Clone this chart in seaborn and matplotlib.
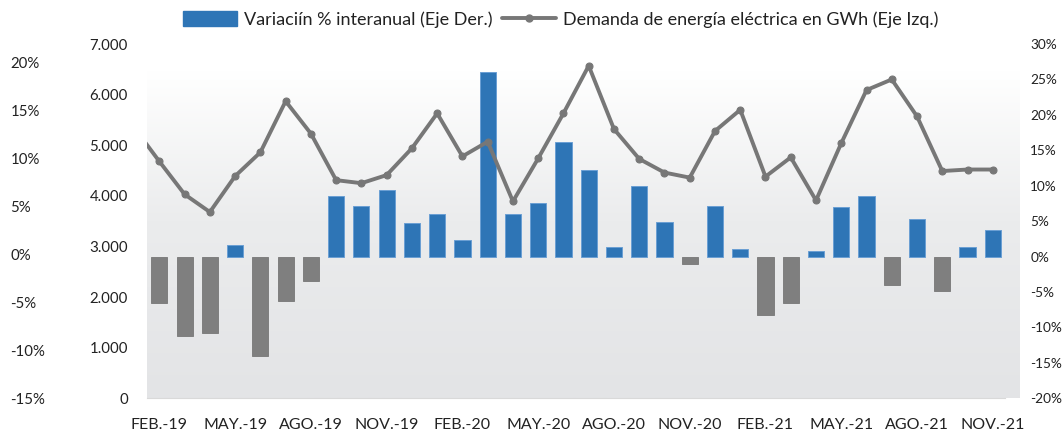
import matplotlib
matplotlib.use("Agg")
import matplotlib.pyplot as plt
import numpy as np
import pandas as pd
import seaborn as sns
from matplotlib.colors import LinearSegmentedColormap
from matplotlib.lines import Line2D
from matplotlib.patches import Patch

# Data
months = ['FEB.-19', 'MAR.-19', 'ABR.-19', 'MAY.-19', 'JUN.-19', 'JUL.-19', 'AGO.-19',
          'SEP.-19', 'OCT.-19', 'NOV.-19', 'DIC.-19',
          'ENE.-20', 'FEB.-20', 'MAR.-20', 'ABR.-20', 'MAY.-20', 'JUN.-20', 'JUL.-20',
          'AGO.-20', 'SEP.-20', 'OCT.-20', 'NOV.-20', 'DIC.-20',
          'ENE.-21', 'FEB.-21', 'MAR.-21', 'ABR.-21', 'MAY.-21', 'JUN.-21', 'JUL.-21',
          'AGO.-21', 'SEP.-21', 'OCT.-21', 'NOV.-21']

# year-on-year variation (%), right axis
var_pct = [-6.6, -11.2, -10.8, 1.6, -14.0, -6.2, -3.4, 8.6, 7.2, 9.4, 4.8,
           6.0, 2.4, 26.1, 6.0, 7.5, 16.1, 12.2, 1.3, 10.0, 4.9, -1.1, 7.2,
           1.1, -8.3, -6.5, 0.8, 7.0, 8.6, -4.0, 5.3, -4.9, 1.3, 3.8]

# electricity demand (GWh), left axis -- starts one month earlier (ENE.-19),
# the chart only shows the segment coming in from the left edge
demand_gwh = [5350, 4680, 4030, 3680, 4390, 4860, 5870, 5230, 4310, 4250, 4410, 4940,
              5630, 4780, 5070, 3890, 4740, 5630, 6570, 5320, 4730, 4460, 4360, 5280,
              5700, 4380, 4760, 3910, 5040, 6090, 6300, 5570, 4490, 4520, 4520]

tick_months = months[::3]
right_ticks = [30, 25, 20, 15, 10, 5, 0, -5, -10, -15, -20]
left_ticks = [0, 1000, 2000, 3000, 4000, 5000, 6000, 7000]
outer_ticks = [20, 15, 10, 5, 0, -5, -10, -15]

BLUE = '#2E75B6'
GRAY_BAR = '#7F7F7F'
GRAY_LINE = '#777777'
TXT = '#222222'
FONT = ['Lato', 'DejaVu Sans']

sns.set_style('white')
plt.rcParams['font.family'] = FONT

fig = plt.figure(figsize=(10.64, 4.34), dpi=100)
rect = [0.1379, 0.0823, 0.8201, 0.8163]

# background gradient
bg = fig.add_axes(rect, zorder=0)
grad = np.linspace(0, 1, 256).reshape(-1, 1)
cmap = LinearSegmentedColormap.from_list('bg', [(0, '#E3E4E6'), (0.5, '#EBECED'), (0.92, '#FFFFFF'), (1, '#FFFFFF')])
bg.imshow(grad, origin='lower', aspect='auto', cmap=cmap, extent=[0, 1, 0, 1])
bg.axis('off')

# bars (right axis)
ax = fig.add_axes(rect, zorder=1)
ax.patch.set_alpha(0)
df = pd.DataFrame({'mes': months, 'var': var_pct})
df['signo'] = np.where(df['var'] >= 0, 'pos', 'neg')
sns.barplot(data=df, x='mes', y='var', hue='signo', palette={'pos': BLUE, 'neg': GRAY_BAR},
            dodge=False, width=0.64, saturation=1, legend=False, ax=ax)
for p in ax.patches:
    if p.get_height() >= 0:
        p.set_edgecolor('#6A9FD4')
    else:
        p.set_edgecolor(GRAY_BAR)
    p.set_linewidth(0.7)

# line axis (twin) -- created first so the tick sides can be set afterwards
ax2 = ax.twinx()
line_x = list(range(-1, len(months)))
sns.lineplot(x=line_x, y=demand_gwh, ax=ax2, color=GRAY_LINE, lw=2.8, marker='o',
             markersize=5, markeredgecolor=GRAY_LINE, markeredgewidth=0.8)

ax.set_ylim(-20, 30)
ax.set_xlim(-0.5, 34.05)
ax.yaxis.tick_right()
ax.yaxis.set_label_position('right')
ax.set_yticks(right_ticks)
ax.set_yticklabels([f'{v}%' for v in right_ticks])
ax.tick_params(axis='y', length=0, pad=8, labelsize=9.8, labelcolor=TXT)
ax.set_xticks(range(0, 34, 3))
ax.set_xticklabels(tick_months)
ax.set_xticks(np.arange(-0.5, 34, 1), minor=True)
ax.tick_params(axis='x', which='major', length=0, pad=14, labelsize=11.5, labelcolor=TXT)
ax.tick_params(axis='x', which='minor', length=5, color='#D9D9D9', width=1, direction='out')
ax.set_xlabel('')
ax.set_ylabel('')
for s in ['top', 'left', 'right']:
    ax.spines[s].set_visible(False)
ax.spines['bottom'].set_color('#D9D9D9')
ax.spines['bottom'].set_bounds(-0.5, 33.5)

ax2.set_xlim(-0.5, 34.05)
ax2.set_ylim(0, 7000)
ax2.yaxis.tick_left()
ax2.yaxis.set_label_position('left')
ax2.set_yticks(left_ticks)
ax2.set_yticklabels([f'{v:,}'.replace(',', '.') for v in left_ticks])
ax2.tick_params(axis='y', length=0, pad=13.5, labelsize=10.8, labelcolor=TXT)
ax2.set_ylabel('')
for s in ax2.spines.values():
    s.set_visible(False)

# outer left % scale
ax3 = fig.add_axes([10 / 1064, 0.0823, 0.0005, 0.7733])
ax3.set_ylim(-15, 20)
ax3.set_yticks(outer_ticks)
ax3.set_yticklabels([f'{v}%' for v in outer_ticks])
ax3.yaxis.tick_right()
ax3.tick_params(axis='y', length=0, pad=0, labelsize=10.8, labelcolor=TXT)
ax3.set_xticks([])
ax3.patch.set_alpha(0)
for s in ax3.spines.values():
    s.set_visible(False)

handles = [Patch(facecolor=BLUE, edgecolor=BLUE),
           Line2D([0], [0], color=GRAY_LINE, lw=2.8, marker='o', markersize=5)]
labels = ['Variaciín % interanual (Eje Der.)', 'Demanda de energía eléctrica en GWh (Eje Izq.)']
fig.legend(handles, labels, loc='center', bbox_to_anchor=(0.527, 0.955), ncol=2, frameon=False,
           fontsize=13, handlelength=3.0, handleheight=0.9, handletextpad=0.4, columnspacing=0.5,
           labelcolor=TXT)

fig.savefig('out.png', dpi=100)
